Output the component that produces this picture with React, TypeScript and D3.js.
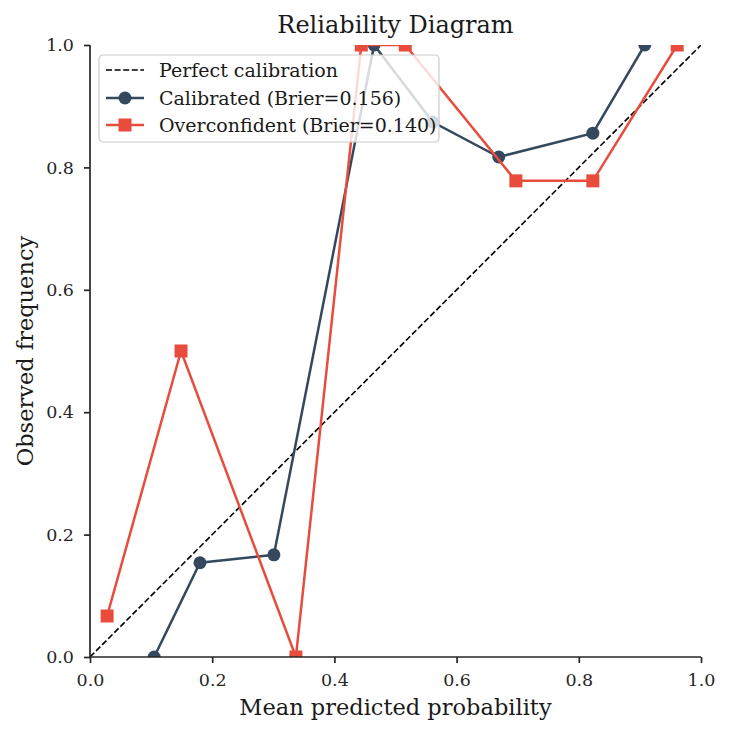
import React, { useEffect, useRef } from 'react';
import * as d3 from 'd3';

// values
const calibratedX = [0.105, 0.18, 0.301, 0.465, 0.561, 0.669, 0.823, 0.908];
const calibratedY = [0.0, 0.154, 0.167, 1.0, 0.874, 0.817, 0.856, 1.0];
const overconfX = [0.028, 0.149, 0.337, 0.444, 0.516, 0.697, 0.823, 0.961];
const overconfY = [0.067, 0.5, 0.0, 1.0, 1.0, 0.778, 0.778, 1.0];
const tickValues = [0, 0.2, 0.4, 0.6, 0.8, 1.0];
const legendLabels = ['Perfect calibration', 'Calibrated (Brier=0.156)', 'Overconfident (Brier=0.140)'];

const CAL_COLOR = '#34495e';
const OVER_COLOR = '#e74c3c';
const FONT = 'DejaVu Serif';

export default function App() {
    const ref = useRef<SVGSVGElement>(null);

    useEffect(() => {
        const svg = d3.select(ref.current);
        svg.selectAll('*').remove();

        const margin = { top: 45, left: 90 };
        const w = 611;
        const h = 612;

        const x = d3.scaleLinear().domain([0, 1]).range([0, w]);
        const y = d3.scaleLinear().domain([0, 1]).range([h, 0]);

        const g = svg.append('g').attr('transform', `translate(${margin.left},${margin.top})`);

        g.append('defs')
            .append('clipPath')
            .attr('id', 'plot-clip')
            .append('rect')
            .attr('width', w)
            .attr('height', h);

        const plot = g.append('g').attr('clip-path', 'url(#plot-clip)');

        // perfect calibration diagonal
        plot.append('path')
            .attr('d', d3.line<number>().x((d) => x(d)).y((d) => y(d))([0, 1]))
            .attr('stroke', 'black')
            .attr('stroke-width', 1.6)
            .attr('stroke-dasharray', '6,2.6')
            .attr('fill', 'none');

        const line = d3
            .line<[number, number]>()
            .x((d) => x(d[0]))
            .y((d) => y(d[1]));

        const calData = calibratedX.map((v, i) => [v, calibratedY[i]] as [number, number]);
        const overData = overconfX.map((v, i) => [v, overconfY[i]] as [number, number]);

        plot.append('path')
            .attr('d', line(calData))
            .attr('stroke', CAL_COLOR)
            .attr('stroke-width', 2.5)
            .attr('fill', 'none');
        plot.selectAll('.cal-pt')
            .data(calData)
            .enter()
            .append('circle')
            .attr('class', 'cal-pt')
            .attr('cx', (d) => x(d[0]))
            .attr('cy', (d) => y(d[1]))
            .attr('r', 6.5)
            .attr('fill', CAL_COLOR);

        plot.append('path')
            .attr('d', line(overData))
            .attr('stroke', OVER_COLOR)
            .attr('stroke-width', 2.5)
            .attr('fill', 'none');
        plot.selectAll('.over-pt')
            .data(overData)
            .enter()
            .append('rect')
            .attr('class', 'over-pt')
            .attr('x', (d) => x(d[0]) - 6.5)
            .attr('y', (d) => y(d[1]) - 6.5)
            .attr('width', 13)
            .attr('height', 13)
            .attr('fill', OVER_COLOR);

        // axes
        const xAxis = d3.axisBottom(x).tickValues(tickValues).tickFormat(d3.format('.1f')).tickSize(6).tickPadding(11);
        const yAxis = d3.axisLeft(y).tickValues(tickValues).tickFormat(d3.format('.1f')).tickSize(6).tickPadding(10);

        const gx = g.append('g').attr('transform', `translate(0,${h})`).call(xAxis);
        const gy = g.append('g').call(yAxis);
        [gx, gy].forEach((ax) => {
            ax.select('.domain').attr('stroke', '#262626').attr('stroke-width', 1.7);
            ax.selectAll('.tick line').attr('stroke', '#262626').attr('stroke-width', 1.7);
            ax.selectAll('.tick text')
                .attr('font-family', FONT)
                .attr('font-size', 17.5)
                .attr('fill', '#262626');
        });
        gx.select('.domain').attr('d', `M0,0H${w}`);
        gy.select('.domain').attr('d', `M0,${h}V0`);

        // title and axis labels
        svg.append('text')
            .attr('x', margin.left + w / 2)
            .attr('y', 33)
            .attr('text-anchor', 'middle')
            .attr('font-family', FONT)
            .attr('font-size', 24)
            .attr('fill', '#1a1a1a')
            .text('Reliability Diagram');

        svg.append('text')
            .attr('x', margin.left + w / 2)
            .attr('y', 715)
            .attr('text-anchor', 'middle')
            .attr('font-family', FONT)
            .attr('font-size', 22.5)
            .attr('fill', '#1a1a1a')
            .text('Mean predicted probability');

        svg.append('text')
            .attr('transform', `translate(33,${margin.top + h / 2}) rotate(-90)`)
            .attr('text-anchor', 'middle')
            .attr('font-family', FONT)
            .attr('font-size', 22.5)
            .attr('fill', '#1a1a1a')
            .text('Observed frequency');

        // legend
        const legend = svg.append('g').attr('transform', 'translate(99,55)');
        legend.append('rect')
            .attr('width', 340)
            .attr('height', 87)
            .attr('rx', 4)
            .attr('fill', 'white')
            .attr('fill-opacity', 0.8)
            .attr('stroke', '#cccccc')
            .attr('stroke-width', 1.2);

        const rowY = [15, 43, 70];
        legendLabels.forEach((label, i) => {
            const row = legend.append('g').attr('transform', `translate(0,${rowY[i]})`);
            if (i === 0) {
                row.append('line')
                    .attr('x1', 7)
                    .attr('x2', 45)
                    .attr('stroke', 'black')
                    .attr('stroke-width', 1.6)
                    .attr('stroke-dasharray', '6,2.6');
            } else {
                const color = i === 1 ? CAL_COLOR : OVER_COLOR;
                row.append('line').attr('x1', 7).attr('x2', 45).attr('stroke', color).attr('stroke-width', 2.5);
                if (i === 1) {
                    row.append('circle').attr('cx', 26).attr('r', 6.5).attr('fill', color);
                } else {
                    row.append('rect').attr('x', 19.5).attr('y', -6.5).attr('width', 13).attr('height', 13).attr('fill', color);
                }
            }
            row.append('text')
                .attr('x', 60)
                .attr('y', 6.5)
                .attr('font-family', FONT)
                .attr('font-size', 19)
                .attr('fill', '#1a1a1a')
                .text(label);
        });
    }, []);

    return (
        <div style={{ position: 'absolute', left: 0, top: 0 }}>
            <svg ref={ref} width={731} height={735} style={{ display: 'block', background: 'white' }} />
        </div>
    );
}
